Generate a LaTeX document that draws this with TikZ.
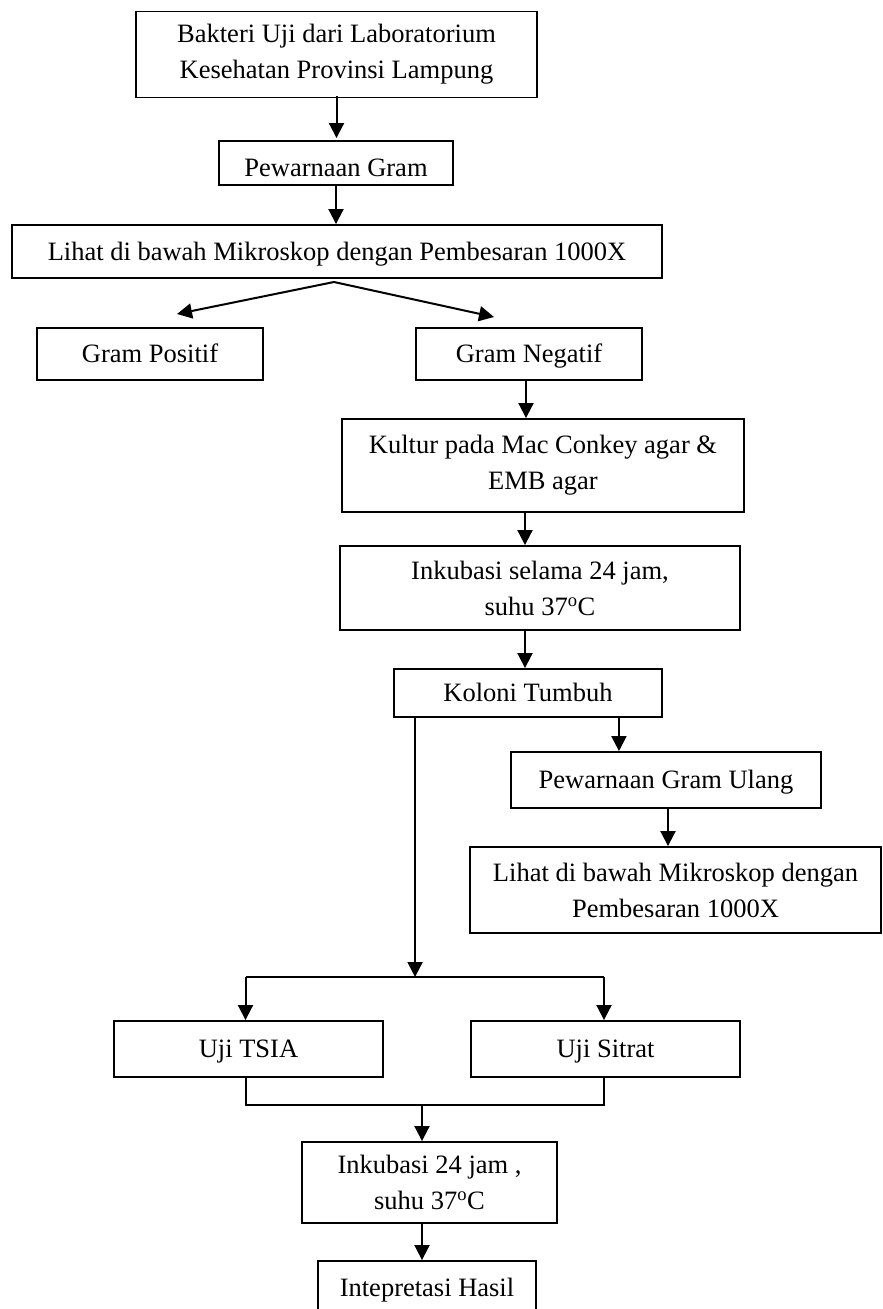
\documentclass[tikz,border=0pt]{standalone}
\usepackage{fontspec}
\setmainfont{Liberation Serif}
\usetikzlibrary{arrows.meta}
\begin{document}
\begin{tikzpicture}[x=1pt,y=-1pt,
  box/.style={draw, line width=1.9pt, rectangle, inner sep=0pt, align=center,
    font=\fontsize{26.5}{36}\selectfont},
  oneline/.style={text height=22pt, text depth=5pt},
  arr/.style={line width=2pt, -{Triangle[length=15pt,width=15pt]}},
  ln/.style={line width=2pt}]
\useasboundingbox (0,0) rectangle (883,1309);

\node[box, minimum width=401pt, minimum height=86pt] (b1) at (336.5,54.5) {Bakteri Uji dari Laboratorium\\Kesehatan Provinsi Lampung};
\node[box, minimum width=234pt, minimum height=44pt, text height=26pt, text depth=0pt] (b2) at (336,163) {Pewarnaan Gram};
\node[box, oneline, minimum width=650pt, minimum height=53pt] (b3) at (337,251.5) {Lihat di bawah Mikroskop dengan Pembesaran 1000X};
\node[box, oneline, minimum width=226pt, minimum height=52pt] (gp) at (150,354) {Gram Positif};
\node[box, oneline, minimum width=226pt, minimum height=52pt] (gn) at (529,354) {Gram Negatif};
\node[box, minimum width=402pt, minimum height=93pt] (kul) at (543,465.5) {Kultur pada Mac Conkey agar \&\\EMB agar};
\node[box, minimum width=400pt, minimum height=84pt] (ink1) at (540,588) {Inkubasi selama 24 jam,\\suhu 37\textsuperscript{o}C};
\node[box, oneline, minimum width=268pt, minimum height=48pt] (kol) at (528,693) {Koloni Tumbuh};
\node[box, oneline, minimum width=310pt, minimum height=56pt] (pgu) at (666,780) {Pewarnaan Gram Ulang};
\node[box, minimum width=411pt, minimum height=86pt] (lh2) at (675.5,890) {Lihat di bawah Mikroskop dengan\\Pembesaran 1000X};
\node[box, oneline, minimum width=269pt, minimum height=56pt] (tsia) at (248.5,1049) {Uji TSIA};
\node[box, oneline, minimum width=269pt, minimum height=56pt] (sit) at (605.5,1049) {Uji Sitrat};
\node[box, minimum width=255pt, minimum height=81pt] (ink2) at (429.5,1182.5) {Inkubasi 24 jam ,\\suhu 37\textsuperscript{o}C};
\node[box, oneline, minimum width=218pt, minimum height=54pt] (int) at (427,1288) {Intepretasi Hasil};

\coordinate (apex) at (334,282);
\coordinate (tipL) at (177,314);
\coordinate (tipR) at (494,317);
\coordinate (bar) at (0,977);
\coordinate (bar2) at (0,1105);

\draw[arr] ([yshift=2pt]b1.south) -- ([yshift=2pt]b1.south |- b2.north);
\draw[arr] (b2.south) -- (b2.south |- b3.north);
\draw[arr] (apex) -- (tipL);
\draw[arr] (apex) -- (tipR);
\draw[arr] ([xshift=-3pt]gn.south) -- ([xshift=-3pt]gn.south |- kul.north);
\draw[arr] ([xshift=-18pt]kul.south) -- ([xshift=-18pt]kul.south |- ink1.north);
\draw[arr] ([xshift=-15pt]ink1.south) -- ([xshift=-15pt]ink1.south |- kol.north);
\draw[arr] ([xshift=-44pt]kol.south east) -- ([xshift=-44pt]kol.south east |- pgu.north);
\draw[arr] ([xshift=2pt]pgu.south) -- ([xshift=2pt]pgu.south |- lh2.north);
\draw[arr] ([xshift=22pt]kol.south west) -- ([xshift=22pt]kol.south west |- bar);
\draw[ln] ([xshift=-3pt]tsia.north |- bar) -- ([xshift=-1.5pt]sit.north |- bar);
\draw[arr] ([xshift=-3pt]tsia.north |- bar) -- ([xshift=-3pt]tsia.north);
\draw[arr] ([xshift=-1.5pt]sit.north |- bar) -- ([xshift=-1.5pt]sit.north);
\draw[ln] ([xshift=-3pt]tsia.south) -- ([xshift=-3pt]tsia.south |- bar2) -- ([xshift=-1.5pt]sit.south |- bar2) -- ([xshift=-1.5pt]sit.south);
\draw[arr] ([xshift=-7.5pt]ink2.north |- bar2) -- ([xshift=-7.5pt]ink2.north);
\draw[arr] ([xshift=-7.5pt]ink2.south) -- ([xshift=-7.5pt]ink2.south |- int.north);
\end{tikzpicture}
\end{document}
